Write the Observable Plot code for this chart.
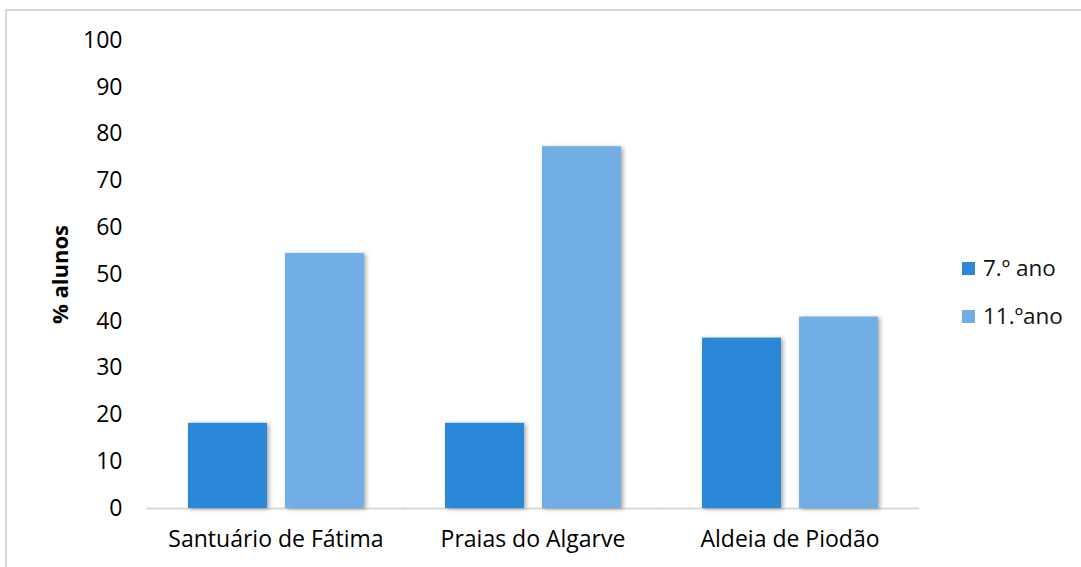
<!DOCTYPE html>
<html><head><meta charset="utf-8">
<script src="https://cdn.jsdelivr.net/npm/d3@7"></script>
<script src="https://cdn.jsdelivr.net/npm/@observablehq/plot@0.6"></script>
<style>
body{margin:0;background:#fff;font-family:"Open Sans",sans-serif}
#wrap{position:relative;width:1081px;height:567px;overflow:hidden;background:#fff}
#border{position:absolute;left:5px;top:9px;width:1200px;height:700px;border-left:2px solid #d9d9d9;border-top:2px solid #d9d9d9;box-sizing:border-box}
#chart{position:absolute;left:0;top:0}
#legend{position:absolute;left:962px;top:255px;font-size:22.5px;color:#111;line-height:26px}
#legend .item{display:flex;align-items:center;height:26px;margin-bottom:22px}
#legend .sw{width:13px;height:13px;margin-right:8px}
g[aria-label="bar"] rect{filter:drop-shadow(2px 1px 2px rgba(0,0,0,0.35))}
g[aria-label="y-axis label"] text{font-weight:bold;font-size:22px}
</style></head>
<body><div id="wrap"><div id="border"></div><div id="chart"></div><div id="legend"></div></div>
<script>
const categories = ["Santuário de Fátima", "Praias do Algarve", "Aldeia de Piodão"];
const series = ["7.º ano", "11.ºano"];
const values7 = [18.2, 18.2, 36.4];
const values11 = [54.5, 77.3, 40.9];
const colors = ["#2b87d8", "#71aee3"];
const yTicks = [0, 10, 20, 30, 40, 50, 60, 70, 80, 90, 100];

const data = [];
categories.forEach((c, i) => {
  data.push({cat: c, serie: series[0], v: values7[i]});
  data.push({cat: c, serie: series[1], v: values11[i]});
});

const chart = Plot.plot({
  width: 1081,
  height: 567,
  marginLeft: 147,
  marginRight: 162,
  marginTop: 40,
  marginBottom: 59,
  style: {fontSize: "23px", fontFamily: "'Open Sans', sans-serif", color: "#000", background: "transparent", overflow: "visible"},
  fx: {domain: categories, paddingInner: 0.31, paddingOuter: 0.155, label: null, tickSize: 0, tickPadding: 22, axis: "bottom"},
  x: {domain: series, paddingInner: 0.19, paddingOuter: 0, axis: null},
  y: {domain: [0, 100], ticks: yTicks, tickSize: 0, tickPadding: 65, label: "% alunos", labelArrow: false, labelAnchor: "center", labelOffset: 135, grid: false},
  color: {domain: series, range: colors},
  marks: [
    Plot.ruleY([0], {stroke: "#d9d9d9", strokeWidth: 2, insetLeft: -41, insetRight: -41}),
    Plot.barY(data, {fx: "cat", x: "serie", y: "v", fill: "serie"})
  ]
});
document.getElementById("chart").appendChild(chart);

const leg = document.getElementById("legend");
series.forEach((s, i) => {
  const it = document.createElement("div");
  it.className = "item";
  it.innerHTML = `<span class="sw" style="background:${colors[i]}"></span><span>${s}</span>`;
  leg.appendChild(it);
});
</script></body></html>
